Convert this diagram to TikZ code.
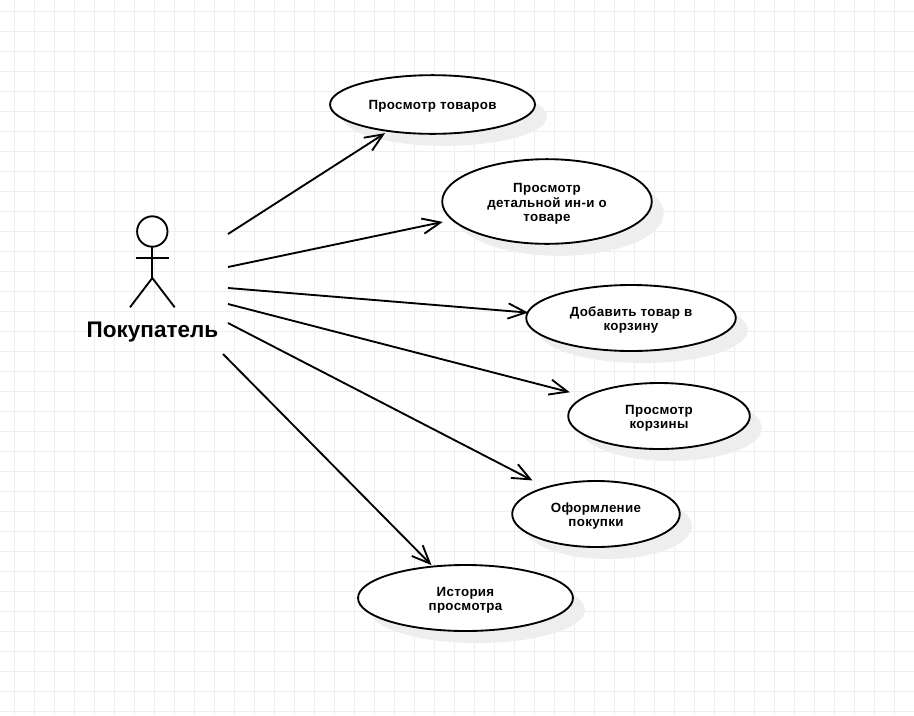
\documentclass[tikz,border=0pt]{standalone}
\usepackage{fontspec}
\setmainfont{Liberation Sans}
\newfontfamily\ucfont[LetterSpace=2.4]{Liberation Sans}
\usetikzlibrary{arrows.meta,shapes.geometric,shadows}
\definecolor{gridc}{HTML}{EEEEEE}
\definecolor{shadowc}{HTML}{EEEEEE}
\newcommand{\uctext}[1]{\raisebox{-2pt}[\height][\depth]{\begin{tabular}{@{}c@{}}#1\end{tabular}}}
\tikzset{
  x=0.75pt,y=-0.75pt,
  gridline/.style={draw=gridc,line width=0.75pt},
  usecase/.style={ellipse,draw=black,fill=white,line width=1.4pt,inner sep=0pt,outer sep=0pt,
    font=\ucfont\fontsize{10}{10.5}\selectfont\bfseries,
    drop shadow={shadow xshift=9pt,shadow yshift=-9pt,opacity=1,fill=shadowc}},
  assoc/.style={draw=black,line width=1.4pt,-{Straight Barb[length=13.5pt,width=11.5pt,line width=1.4pt]}},
  limb/.style={draw=black,line width=1.4pt},
  actorhead/.style={circle,draw=black,line width=1.4pt,fill=white,minimum size=22.8pt,inner sep=0pt,outer sep=0pt},
  actorlabel/.style={font=\fontsize{16.9}{18}\selectfont\bfseries,inner sep=0pt}
}
\begin{document}
\begin{tikzpicture}
\useasboundingbox (0,0) rectangle (914,715);
\fill[white] (0,0) rectangle (914,715);
\foreach \gx in {14.5,34.5,...,914} \draw[gridline] (\gx,0) -- (\gx,715);
\foreach \gy in {11.5,31.5,...,715} \draw[gridline] (0,\gy) -- (914,\gy);

\node[usecase,minimum width=153.7pt,minimum height=44pt] (u1) at (432.5,104.5) {\uctext{Просмотр товаров}};
\node[usecase,minimum width=157.2pt,minimum height=63.5pt] (u2) at (547,201.5) {\uctext{Просмотр\\детальной ин-и о\\товаре}};
\node[usecase,minimum width=157.2pt,minimum height=49.5pt] (u3) at (631,318) {\uctext{Добавить товар в\\корзину}};
\node[usecase,minimum width=136.2pt,minimum height=49.5pt] (u4) at (659,416) {\uctext{Просмотр\\корзины}};
\node[usecase,minimum width=125.7pt,minimum height=49.5pt] (u5) at (596,514) {\uctext{Оформление\\покупки}};
\node[usecase,minimum width=161.2pt,minimum height=49.5pt] (u6) at (465.5,598) {\uctext{История\\просмотра}};

\node[actorhead] (head) at (152.3,231.5) {};
\coordinate (neck) at (head.south);
\coordinate (hip) at (152.3,278);
\coordinate (armL) at (136,258.3);
\coordinate (armR) at (168.7,258.3);
\coordinate (legL) at (130,307.3);
\coordinate (legR) at (174.7,307.3);
\draw[limb] (neck) -- (hip);
\draw[limb] (armL) -- (armR);
\draw[limb] (legL) -- (hip) -- (legR);
\node[actorlabel] (actor) at (152.5,332.5) {Покупатель};

\coordinate (a1) at (228,234);
\coordinate (a2) at (228,267);
\coordinate (a3) at (228,288);
\coordinate (a4) at (228,304);
\coordinate (a5) at (228,323);
\coordinate (a6) at (223,354);
\draw[assoc,shorten >=3pt] (a1) -- (u1.211.8);
\draw[assoc,shorten >=7.5pt] (a2) -- (u2.191.5);
\draw[assoc,shorten >=-0.5pt] (a3) -- (u3.177.3);
\draw[assoc,shorten >=12.5pt] (a4) -- (u4.165.1);
\draw[assoc,shorten >=11.5pt] (a5) -- (u5.152.8);
\draw[assoc,shorten >=1.5pt] (a6) -- (u6.136.3);
\end{tikzpicture}
\end{document}
